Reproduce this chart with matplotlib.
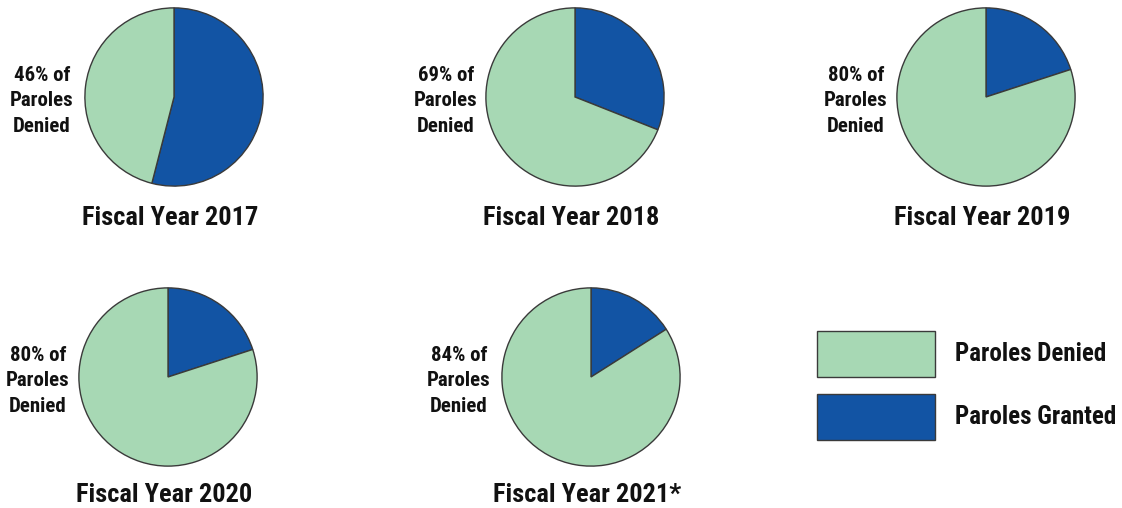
import matplotlib
matplotlib.use("Agg")
import matplotlib.pyplot as plt
from matplotlib.patches import Rectangle
from matplotlib import font_manager

years = ["Fiscal Year 2017", "Fiscal Year 2018", "Fiscal Year 2019", "Fiscal Year 2020", "Fiscal Year 2021*"]
denied = [46, 69, 80, 80, 84]
granted = [54, 31, 20, 20, 16]
legend_labels = ["Paroles Denied", "Paroles Granted"]

GREEN = "#a7d8b4"
BLUE = "#1254a4"
EDGE = "#3a3a3a"

names = {f.name for f in font_manager.fontManager.ttflist}
fam = [n for n in ["Roboto Condensed", "Liberation Sans Narrow", "DejaVu Sans Condensed", "Liberation Sans"] if n in names] + ["DejaVu Sans"]
plt.rcParams['font.family'] = fam

W, H = 1122, 508
fig = plt.figure(figsize=(W / 100, H / 100), dpi=100)

# pie centers (px) and radius
centers = [(174, 97), (575, 97), (986, 97), (168, 377), (591, 377)]
R = 90
label_x = [42, 446, 856, 38, 459]
title_y = [218, 218, 218, 495, 495]

for i, (cx, cy) in enumerate(centers):
    ax = fig.add_axes([(cx - R) / W, 1 - (cy + R) / H, 2 * R / W, 2 * R / H])
    ax.pie([granted[i], denied[i]], colors=[BLUE, GREEN], startangle=90, counterclock=False,
           wedgeprops=dict(edgecolor=EDGE, linewidth=1.0), radius=1)
    ax.set_xlim(-1.01, 1.01)
    ax.set_ylim(-1.01, 1.01)
    ax.set_aspect('auto')
    ax.axis('off')
    fig.text((cx - 4) / W, 1 - title_y[i] / H, years[i], ha='center', va='center',
             fontsize=19, fontweight='bold', color='#111111')
    fig.text(label_x[i] / W, 1 - (cy + 4) / H, f"{denied[i]}% of\nParoles\nDenied", ha='center', va='center',
             fontsize=15, fontweight='bold', color='#111111', linespacing=1.45)

# legend
for j, (y0, c) in enumerate([(331, GREEN), (394, BLUE)]):
    fig.patches.append(Rectangle((817 / W, 1 - (y0 + 46) / H), 118 / W, 46 / H, transform=fig.transFigure,
                                 facecolor=c, edgecolor=EDGE, linewidth=1.0))
    fig.text(955 / W, 1 - (y0 + 23) / H, legend_labels[j], ha='left', va='center',
             fontsize=18, fontweight='bold', color='#111111')

fig.savefig("out.png", dpi=100, facecolor='white')
